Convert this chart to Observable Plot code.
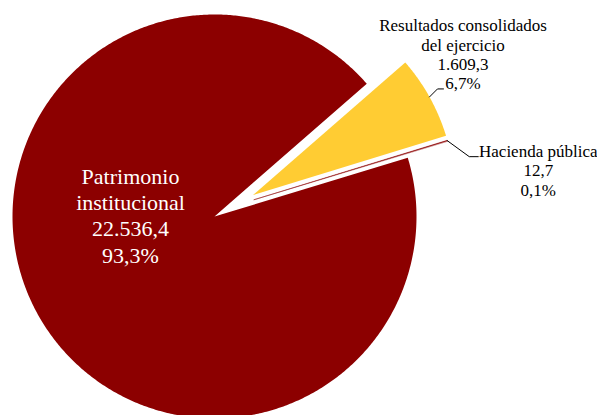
<!DOCTYPE html>
<html><head><meta charset="utf-8">
<script src="https://cdn.jsdelivr.net/npm/d3@7"></script>
<script src="https://cdn.jsdelivr.net/npm/@observablehq/plot@0.6"></script>
<style>
html,body{margin:0;padding:0;background:#fff}
svg{display:block}
.pie text{font-family:"Liberation Serif",serif !important}
</style>
</head><body><div id="chart"></div>
<script>
// ---- data ----
const categories = ["Patrimonio institucional", "Resultados consolidados del ejercicio", "Hacienda pública"];
const nameLines = [["Patrimonio", "institucional"], ["Resultados consolidados", "del ejercicio"], ["Hacienda pública"]];
const values = [22536.4, 1609.3, 12.7];
const valueLabels = ["22.536,4", "1.609,3", "12,7"];
const percentLabels = ["93,3%", "6,7%", "0,1%"];
const colors = ["#8c0000", "#ffcc33", "#8c0000"];

// ---- layout ----
const W = 597, H = 415;
const cx = 214, cy = 216, R = 202;
const startDeg = 73.1;
const explode = [0, 44, 43];
const explodeTurn = [0, 0, -6];
const outlineW = [0, 0, 0.45];
const rad = Math.PI / 180;

const arcs = d3.pie().sort(null).value(d => d)
  .startAngle(startDeg * rad).endAngle(startDeg * rad + 2 * Math.PI)(values);

const slicePts = [];
const geo = arcs.map((a, i) => {
  const mid = (a.startAngle + a.endAngle) / 2;
  const dir = mid + explodeTurn[i] * rad;
  const ox = cx + explode[i] * Math.sin(dir), oy = cy - explode[i] * Math.cos(dir);
  const n = Math.max(2, Math.ceil((a.endAngle - a.startAngle) / rad * 2));
  slicePts.push({slice: categories[i], x: ox, y: oy, color: colors[i], sw: outlineW[i]});
  for (let k = 0; k <= n; k++) {
    const t = a.startAngle + (a.endAngle - a.startAngle) * k / n;
    slicePts.push({slice: categories[i], x: ox + R * Math.sin(t), y: oy - R * Math.cos(t), color: colors[i], sw: outlineW[i]});
  }
  return {ox, oy, mid, ex: ox + R * Math.sin(mid), ey: oy - R * Math.cos(mid)};
});

// leader lines (offsets from the arc midpoint)
const leaderShape = [null, [[8, -8], [14, -8]], [[22, 16], [31, 16]]];
const leaders = [];
const outerLabels = [];
[1, 2].forEach(i => {
  const g = geo[i];
  leaders.push({slice: categories[i], x: g.ex, y: g.ey});
  leaderShape[i].forEach(([dx, dy]) => leaders.push({slice: categories[i], x: g.ex + dx, y: g.ey + dy}));
});
const endPt = i => { const g = geo[i], s = leaderShape[i][1]; return [g.ex + s[0], g.ey + s[1]]; };
const labelOffset = [[-84, 46], [19.5, 0], [60, 39]];
const makeText = i => [...nameLines[i], valueLabels[i], percentLabels[i]].join("\n");
const innerLabels = [{x: cx + labelOffset[0][0], y: cy + labelOffset[0][1], text: makeText(0)}];
[1, 2].forEach(i => {
  const [ex, ey] = endPt(i);
  outerLabels.push({x: ex + labelOffset[i][0], y: ey + labelOffset[i][1], text: makeText(i)});
});

const font = "Liberation Serif";
const chart = Plot.plot({
  className: "pie",
  width: W, height: H, margin: 0,
  x: {domain: [0, W], range: [0, W], axis: null},
  y: {domain: [0, H], range: [0, H], axis: null},
  color: {type: "identity"},
  marks: [
    Plot.line(slicePts, {x: "x", y: "y", z: "slice", fill: "color", stroke: "color", strokeWidth: "sw", strokeLinejoin: "round", curve: "linear-closed"}),
    Plot.line(leaders, {x: "x", y: "y", z: "slice", stroke: "#000", strokeWidth: 1}),
    Plot.text(innerLabels, {x: "x", y: "y", text: "text", fill: "#fff", fontSize: 22, lineHeight: 1.195, lineAnchor: "bottom", textAnchor: "middle", fontFamily: font}),
    Plot.text(outerLabels, {x: "x", y: "y", text: "text", fill: "#000", fontSize: 17, lineHeight: 1.13, lineAnchor: "bottom", textAnchor: "middle", fontFamily: font})
  ]
});
document.getElementById("chart").appendChild(chart);
</script>
</body></html>
